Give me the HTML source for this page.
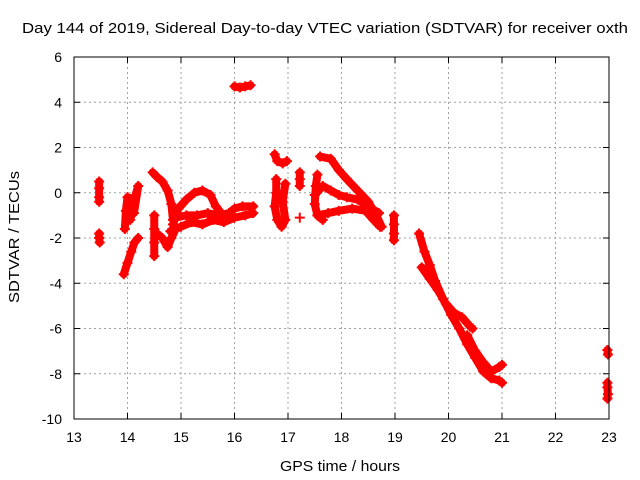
<!DOCTYPE html>
<html><head><meta charset="utf-8"><style>
body{margin:0;background:#fff;}
svg{display:block;font-family:"Liberation Sans",sans-serif;}
</style></head><body>
<svg id="chart" width="640" height="480">
<text x="22" y="33" font-size="15" textLength="606" lengthAdjust="spacingAndGlyphs">Day 144 of 2019, Sidereal Day-to-day VTEC variation (SDTVAR) for receiver oxth</text>
<text x="280" y="471" font-size="15" textLength="120" lengthAdjust="spacingAndGlyphs">GPS time / hours</text>
<text transform="translate(19,303) rotate(-90)" font-size="15" textLength="132" lengthAdjust="spacingAndGlyphs">SDTVAR / TECUs</text>
<g id="grid"></g><g id="ticks"></g><g id="marks"></g>
<rect x="74" y="57" width="535" height="362" fill="none" stroke="#000" stroke-width="1"/>
</svg>
<script>
const xTicks=[13,14,15,16,17,18,19,20,21,22,23];
const yTicks=[6,4,2,0,-2,-4,-6,-8,-10];
const trackA1=[[13.47,0.5],[13.47,0.2],[13.47,-0.2],[13.47,-0.4]];
const trackA2=[[13.47,-1.8],[13.47,-2.0],[13.48,-2.2]];
const trackB1=[[13.93,-3.6],[14.0,-3.1],[14.07,-2.6],[14.13,-2.2],[14.2,-2.0]];
const trackB2=[[13.95,-1.6],[13.97,-0.8],[14.0,-0.2],[14.05,-1.2],[14.1,-0.6],[14.15,-0.1],[14.2,0.3],[14.12,-0.9]];
const trackC1=[[14.47,0.9],[14.55,0.7],[14.65,0.5],[14.75,0.1],[14.82,-0.5],[14.85,-1.2]];
const trackC2=[[14.5,-1.0],[14.5,-1.6],[14.5,-2.2],[14.5,-2.8]];
const trackC3=[[14.55,-1.8],[14.65,-2.0],[14.75,-2.4],[14.82,-2.0],[14.9,-1.6]];
const loopUp=[[14.85,-1.4],[14.95,-0.7],[15.1,-0.3],[15.25,0.0],[15.4,0.1],[15.55,-0.1],[15.65,-0.6],[15.75,-0.9]];
const bandLow=[[14.8,-1.7],[15.0,-1.5],[15.2,-1.3],[15.4,-1.4],[15.6,-1.2],[15.8,-1.3],[16.0,-1.1],[16.2,-1.0],[16.35,-0.9]];
const bandMid=[[14.9,-1.1],[15.1,-1.0],[15.3,-1.0],[15.5,-0.9],[15.7,-1.0],[15.9,-0.9],[16.0,-0.7],[16.15,-0.6],[16.35,-0.6]];
const island=[[16.0,4.7],[16.1,4.65],[16.2,4.7],[16.3,4.75]];
const trackD1=[[16.75,1.7],[16.8,1.4],[16.9,1.3],[16.98,1.4]];
const trackD2=[[16.78,0.6],[16.78,0.0],[16.75,-0.6],[16.8,-1.2],[16.88,-1.5],[16.95,-1.2],[16.9,-0.4],[16.95,0.4]];
const trackE=[[17.22,0.9],[17.22,0.6],[17.22,0.3]];
const trackE2=[[17.22,-1.1]];
const bigUp=[[17.6,1.6],[17.8,1.5],[17.95,1.0],[18.1,0.6],[18.3,0.1],[18.5,-0.4],[18.65,-1.0],[18.75,-1.5]];
const bigMid=[[17.5,-0.1],[17.65,0.3],[17.8,0.1],[17.95,-0.1],[18.1,-0.2],[18.3,-0.3],[18.5,-0.6],[18.7,-0.9]];
const bigLow=[[17.55,-1.0],[17.75,-0.9],[17.95,-0.8],[18.2,-0.7],[18.45,-0.8],[18.6,-1.2],[18.72,-1.5]];
const bigVert=[[17.55,0.8],[17.52,0.3],[17.5,-0.5],[17.55,-1.0],[17.65,-1.2]];
const trackF=[[18.98,-1.0],[18.98,-1.4],[18.98,-1.8],[18.98,-2.1]];
const descMain=[[19.45,-1.8],[19.55,-2.6],[19.65,-3.2],[19.75,-3.9],[19.9,-4.7],[20.05,-5.4],[20.2,-6.0],[20.35,-6.7],[20.5,-7.3],[20.65,-7.9],[20.8,-8.2],[20.95,-8.3],[21.0,-8.4]];
const descUp=[[19.5,-3.3],[19.65,-3.8],[19.8,-4.3],[19.95,-4.9],[20.1,-5.3],[20.25,-5.5],[20.4,-5.9],[20.45,-6.0]];
const descLow=[[20.35,-6.3],[20.5,-7.0],[20.65,-7.5],[20.8,-7.9],[20.95,-7.7],[21.0,-7.6]];
const trackG1=[[22.97,-6.95],[22.98,-7.15]];
const trackG2=[[22.97,-8.4],[22.97,-8.6],[22.98,-8.9],[22.97,-9.1]];
const tracks=[trackA1,trackA2,trackB1,trackB2,trackC1,trackC2,trackC3,loopUp,bandLow,bandMid,island,trackD1,trackD2,trackE,trackE2,bigUp,bigMid,bigLow,bigVert,trackF,descMain,descUp,descLow,trackG1,trackG2];

const NS="http://www.w3.org/2000/svg";
const X=v=>74+(v-13)*53.5;
const Y=v=>57+(6-v)*22.625;
function mk(t,a,p){const e=document.createElementNS(NS,t);for(const k in a)e.setAttribute(k,a[k]);p.appendChild(e);return e;}
const grid=document.getElementById('grid'),ticks=document.getElementById('ticks'),marks=document.getElementById('marks');
xTicks.forEach(v=>{
  if(v>13&&v<23){const g=mk('line',{x1:X(v),x2:X(v),y1:57,y2:419,stroke:'#a0a0a0','stroke-dasharray':'2,3'},grid);
  
  }
  mk('line',{x1:X(v),x2:X(v),y1:419,y2:413,stroke:'#000'},ticks);
  mk('line',{x1:X(v),x2:X(v),y1:57,y2:63,stroke:'#000'},ticks);
  const t=mk('text',{x:X(v),y:442,'text-anchor':'middle','font-size':14},ticks);t.textContent=v;
  
  
});
yTicks.forEach(v=>{
  if(v<6&&v>-10){const g=mk('line',{x1:74,x2:609,y1:Y(v),y2:Y(v),stroke:'#a0a0a0','stroke-dasharray':'2,3'},grid);
  
  }
  mk('line',{x1:74,x2:80,y1:Y(v),y2:Y(v),stroke:'#000'},ticks);
  mk('line',{x1:603,x2:609,y1:Y(v),y2:Y(v),stroke:'#000'},ticks);
  const t=mk('text',{x:62,y:Y(v)+5,'text-anchor':'end','font-size':14},ticks);t.textContent=v;
  
  
});
tracks.forEach(tr=>{
  if(tr.length>1){
    const pl=mk('polyline',{points:tr.map(p=>X(p[0])+','+Y(p[1])).join(' '),fill:'none',stroke:'#ff0000','stroke-width':8,'stroke-linejoin':'round','stroke-linecap':'round'},marks);
    
    
  }
  tr.forEach(p=>{
    const x=X(p[0]),y=Y(p[1]);
    const m=mk('path',{d:`M${x-5},${y}H${x+5}M${x},${y-5}V${y+5}`,stroke:'#ff0000','stroke-width':2},marks);
    
    
  });
});
</script>
</body></html>
